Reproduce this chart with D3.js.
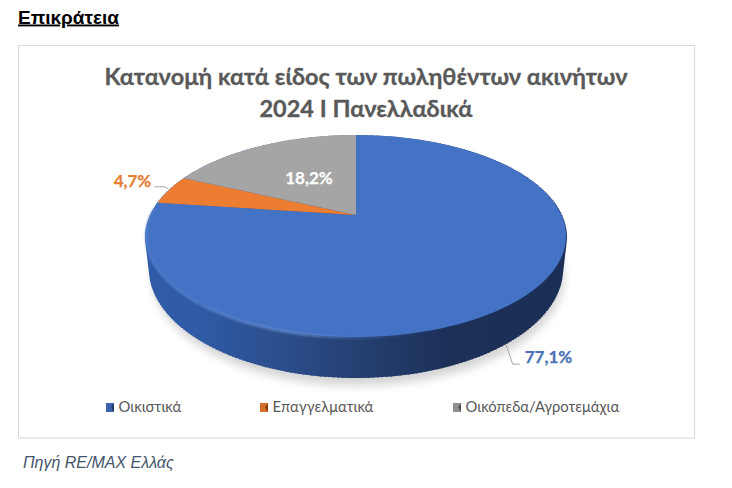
<!DOCTYPE html>
<html><head><meta charset="utf-8">
<script src="https://cdn.jsdelivr.net/npm/d3@7"></script>
<style>html,body{margin:0;padding:0;background:#fff}svg{display:block}</style></head>
<body><svg id="c" width="732" height="488"></svg>
<script>
const categories=["Οικιστικά","Επαγγελματικά","Οικόπεδα/Αγροτεμάχια"];
const values=[77.1,4.7,18.2];
const labels=["77,1%","4,7%","18,2%"];
const colors=["#4472c4","#ed7d31","#a5a5a5"];
const darks=["#1f3864","#843c0c","#525252"];
const titleLines=["Κατανομή κατά είδος των πωληθέντων ακινήτων","2024 Ι Πανελλαδικά"];
const heading="Επικράτεια";
const source="Πηγή RE/MAX Ελλάς";

const svg=d3.select("#c");
const defs=svg.append("defs");
const cx=356,cy=215,A=205.5,B=96.6,k=0.208,depth=32.5;
function proj(t,z=0){ // t clockwise from top, z = extrusion
  const X=Math.sin(t),Y=-Math.cos(t),w=1-k*Y;
  return [cx+A*X/w*(1-z*0.0006),cy+B*Y/w+z/w];
}
const pie=d3.pie().sort(null)(values);
const line=d3.line();
const arcPts=(a,b,z=0)=>d3.range(0,181).map(i=>proj(a+(b-a)*i/180,z));

const blur=(id,s)=>defs.append("filter").attr("id",id).attr("x","-20%").attr("y","-20%").attr("width","140%").attr("height","140%")
  .append("feGaussianBlur").attr("stdDeviation",s);
blur("blur",5);blur("soft",0.8);
const wg=defs.append("linearGradient").attr("id","wall").attr("gradientUnits","userSpaceOnUse")
  .attr("x1",146).attr("x2",566).attr("y1",0).attr("y2",0);
[[0,"#2f5ba8"],[0.14,"#2f5aa4"],[0.3,"#2c4f8f"],[0.52,"#243f70"],[0.72,"#1c3058"],[1,"#1b2f56"]]
  .forEach(([o,c])=>wg.append("stop").attr("offset",o).attr("stop-color",c));
const rg=defs.append("linearGradient").attr("id","rim").attr("gradientUnits","userSpaceOnUse")
  .attr("x1",146).attr("x2",420).attr("y1",0).attr("y2",0);
[[0,"#5f8ad6",.8],[0.55,"#7ea3e6",.9],[1,"#4472c4",0]]
  .forEach(([o,c,a])=>rg.append("stop").attr("offset",o).attr("stop-color",c).attr("stop-opacity",a));

// panel
svg.append("rect").attr("x",18.5).attr("y",45.5).attr("width",676).attr("height",392.5)
  .attr("fill","#fff").attr("stroke","#d9d9d9");

// shadow
svg.append("path").attr("d",line(arcPts(0,2*Math.PI,depth+2)))
  .attr("fill","#000").attr("opacity",.17).attr("filter","url(#blur)")
  .attr("transform","translate(2,5)");

// wall: hull of the top rim and the extruded rim
svg.append("path").attr("d",line(arcPts(0,2*Math.PI,depth))).attr("fill","url(#wall)");
svg.append("path").attr("d",line(d3.range(0,361).flatMap(i=>{
    const t=i/360*2*Math.PI; return [proj(t,0),proj(t,depth)];
  }))).attr("fill","none").attr("stroke","url(#wall)").attr("stroke-width",2);

// top faces
svg.selectAll("path.slice").data(pie).join("path").attr("class","slice")
  .attr("d",d=>line([[cx,cy],...arcPts(d.startAngle,d.endAngle)])+"Z")
  .attr("fill",(d,i)=>colors[i]);

// bevel highlight along the front-left rim
svg.append("path").attr("d",line(arcPts(Math.PI*1.52,Math.PI*0.9,0.5)))
  .attr("fill","none").attr("stroke","url(#rim)").attr("stroke-width",1.6).attr("filter","url(#soft)");

// leaders
const lc="#a6a6a6";
function leader(i){
  const d=pie[i],m=(d.startAngle+d.endAngle)/2;
  if(i===0){const p=proj(2.47,depth);return [p,[p[0]+7,p[1]+20],[p[0]+14,p[1]+20]];}
  const p=proj(m);return [[p[0]-1,p[1]-1],[p[0]-5,p[1]-3],[p[0]-15,p[1]-3]];
}
[0,1].forEach(i=>svg.append("path").attr("d",line(leader(i))).attr("fill","none").attr("stroke",lc));

// data labels
const LF="Lato,'Noto Sans',sans-serif";
const lpos=[[548.5,363],[132.5,187],[309,184]];
const lfill=["#4a72b4","#e67c35","#ffffff"];
svg.selectAll("text.dl").data(labels).join("text").attr("class","dl")
  .attr("x",(d,i)=>lpos[i][0]).attr("y",(d,i)=>lpos[i][1]).attr("text-anchor","middle")
  .attr("font-family",LF).attr("font-weight",700).attr("font-size",17)
  .attr("fill",(d,i)=>lfill[i]).attr("stroke",(d,i)=>lfill[i]).attr("stroke-width",.25).text(d=>d);

// title
svg.selectAll("text.t").data(titleLines).join("text").attr("class","t")
  .attr("x",366).attr("y",(d,i)=>85+i*32).attr("text-anchor","middle")
  .attr("font-family",LF).attr("font-weight",700).attr("font-size",23.5)
  .attr("fill","#595959").attr("stroke","#595959").attr("stroke-width",.3).text(d=>d);

// legend
const lx=[106,260,453];
const lg=svg.selectAll("g.lg").data(categories).join("g").attr("class","lg")
  .attr("transform",(d,i)=>`translate(${lx[i]},403)`);
lg.append("rect").attr("width",8).attr("height",9).attr("fill",(d,i)=>darks[i]);
lg.append("path").attr("d",line([[0,0],[8,0],[5,4.5],[8,9],[0,9]])+"Z").attr("fill",(d,i)=>colors[i]).attr("opacity",.75);
lg.append("text").attr("x",12.5).attr("y",9).attr("font-family",LF).attr("font-size",14.8)
  .attr("fill","#595959").text(d=>d);

// heading + source
svg.append("text").attr("x",18).attr("y",23.5).attr("font-family","'Liberation Sans',Arial,sans-serif")
  .attr("font-weight",700).attr("font-size",19).attr("text-decoration","underline").attr("fill","#000").text(heading);
svg.append("text").attr("x",23).attr("y",468).attr("font-family","'Liberation Sans',Arial,sans-serif")
  .attr("font-style","italic").attr("font-size",16).attr("fill","#44546a").text(source);
</script></body></html>
